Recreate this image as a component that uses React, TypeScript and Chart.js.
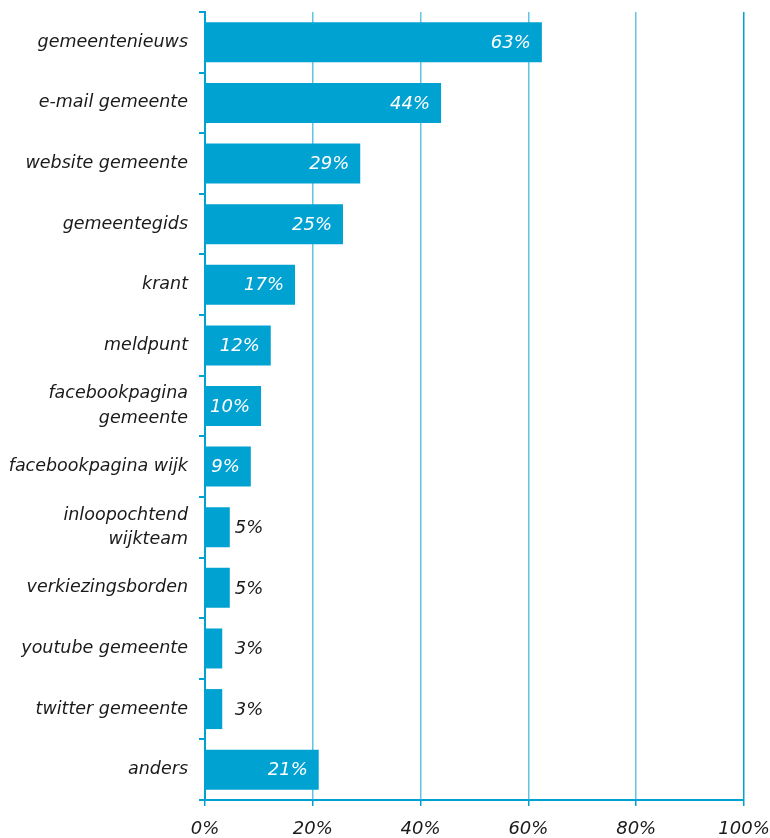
import React, { useEffect, useRef } from "react";
import { Chart, registerables } from "chart.js";

Chart.register(...registerables);

const categories: (string | string[])[] = [
  "gemeentenieuws",
  "e-mail gemeente",
  "website gemeente",
  "gemeentegids",
  "krant",
  "meldpunt",
  ["facebookpagina", "gemeente"],
  "facebookpagina wijk",
  ["inloopochtend", "wijkteam"],
  "verkiezingsborden",
  "youtube gemeente",
  "twitter gemeente",
  "anders",
];

const values: number[] = [62.5, 43.8, 28.8, 25.6, 16.7, 12.2, 10.4, 8.5, 4.6, 4.6, 3.2, 3.2, 21.1];
const valueLabels: string[] = ["63%", "44%", "29%", "25%", "17%", "12%", "10%", "9%", "5%", "5%", "3%", "3%", "21%"];
const xTicks: number[] = [0, 20, 40, 60, 80, 100];

const BLUE = "#00a2d1";
const GRID = "#62c3e2";
const FONT = "'DejaVu Sans', Verdana, sans-serif";

const labelPlugin = {
  id: "barLabels",
  afterDatasetsDraw(chart: any) {
    const ctx = chart.ctx;
    const meta = chart.getDatasetMeta(0);
    ctx.save();
    ctx.font = `italic 18px ${FONT}`;
    ctx.textBaseline = "middle";
    meta.data.forEach((bar: any, i: number) => {
      const v = values[i];
      const text = valueLabels[i];
      if (v >= 8) {
        ctx.fillStyle = "#ffffff";
        ctx.textAlign = "right";
        ctx.fillText(text, bar.x - 11, bar.y + 1);
      } else {
        ctx.fillStyle = "#1a1a1a";
        ctx.textAlign = "left";
        ctx.fillText(text, Math.max(bar.x + 4, bar.base + 29), bar.y + 1);
      }
    });
    ctx.restore();
  },
};

export default function App() {
  const ref = useRef<HTMLCanvasElement | null>(null);

  useEffect(() => {
    document.body.style.margin = "0";
    if (!ref.current) return;
    const chart = new Chart(ref.current, {
      type: "bar",
      data: {
        labels: categories,
        datasets: [
          {
            data: values,
            backgroundColor: BLUE,
            borderWidth: 0,
            barPercentage: 0.66,
            categoryPercentage: 1,
          },
        ],
      },
      options: {
        indexAxis: "y",
        animation: false,
        responsive: false,
        maintainAspectRatio: false,
        layout: { padding: { top: 12, right: 26, left: 0, bottom: 0 } },
        plugins: {
          legend: { display: false },
          tooltip: { enabled: false },
        },
        scales: {
          x: {
            min: 0,
            max: 100,
            afterFit: (s: any) => {
              s.height = 38;
              s.paddingLeft = 0;
              s.paddingRight = 0;
            },
            afterBuildTicks: (s: any) => {
              s.ticks = xTicks.map((v) => ({ value: v }));
            },
            grid: {
              color: (c: any) => (c.tick && c.tick.value === 100 ? BLUE : GRID),
              lineWidth: 1.5,
              tickLength: 6,
              tickColor: BLUE,
              drawTicks: true,
            },
            border: { display: true, color: BLUE, width: 2 },
            ticks: {
              padding: 13,
              color: "#1a1a1a",
              font: { family: FONT, size: 18, style: "italic" },
              callback: (v: any) => `${v}%`,
            },
          },
          y: {
            afterFit: (s: any) => {
              s.width = 205;
              s.paddingTop = 0;
              s.paddingBottom = 0;
            },
            grid: {
              offset: true,
              drawOnChartArea: false,
              drawTicks: true,
              tickLength: 6,
              color: BLUE,
              lineWidth: 2,
            },
            border: { display: true, color: BLUE, width: 2 },
            ticks: {
              padding: 11,
              color: "#1a1a1a",
              font: { family: FONT, size: 17.5, style: "italic", lineHeight: 1.4 },
            },
          },
        },
      },
      plugins: [labelPlugin],
    });
    return () => chart.destroy();
  }, []);

  return <canvas ref={ref} width={770} height={838} style={{ display: "block" }} />;
}
